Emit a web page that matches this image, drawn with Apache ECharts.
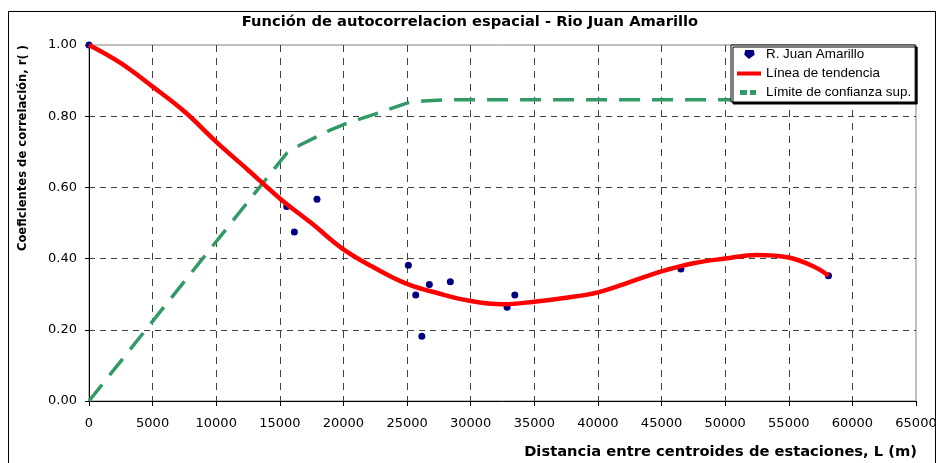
<!DOCTYPE html>
<html>
<head>
<meta charset="utf-8">
<script src="https://cdn.jsdelivr.net/npm/echarts@6/dist/echarts.min.js"></script>
<style>
html,body{margin:0;padding:0;background:#fff;}
#chart{width:940px;height:463px;}
</style>
</head>
<body>
<div id="chart"></div>
<script>
// ---- Data ----
const titleText = 'Función de autocorrelacion espacial - Rio Juan Amarillo';
const xAxisTitle = 'Distancia entre centroides de estaciones, L (m)';
const yAxisTitle = 'Coeficientes de correlación, r( )';
const seriesNames = ['R. Juan Amarillo', 'Línea de tendencia', 'Límite de confianza sup.'];

// observed correlation points
const obsX = [0, 15540, 16140, 17920, 25100, 25680, 26160, 26750, 28400, 32860, 33470, 46520, 58120];
const obsY = [1.00, 0.546, 0.475, 0.567, 0.381, 0.298, 0.182, 0.327, 0.335, 0.263, 0.298, 0.371, 0.352];

// trend line
const trendX = [0, 2500, 5000, 7500, 10000, 12500, 15000, 17500, 20000, 22500, 25000, 27500, 30000, 32500, 35000, 37500, 40000, 42500, 45000, 47500, 50000, 52500, 55000, 57000, 58120];
const trendY = [1.00, 0.949, 0.883, 0.813, 0.728, 0.649, 0.569, 0.499, 0.426, 0.373, 0.329, 0.302, 0.281, 0.272, 0.279, 0.290, 0.305, 0.334, 0.364, 0.387, 0.400, 0.410, 0.403, 0.377, 0.352];

// upper confidence limit (green dashed)
const limX = [0, 15540, 16590, 18950, 20260, 22820, 25100, 26280, 27930, 58120];
const limY = [0, 0.696, 0.719, 0.761, 0.780, 0.810, 0.838, 0.843, 0.846, 0.846];

const xMin = 0, xMax = 65000, xStep = 5000;
const yMin = 0, yMax = 1, yStep = 0.2;

const zip = (a, b) => a.map((v, i) => [v, b[i]]);

// legend icons (24 x 9 boxes, tiny corner triangles fix the bounding box)
const box = 'M0,0 L0.01,0 L0,0.01 Z M24,9 L23.99,9 L24,8.99 Z ';
const iconPoint = 'path://' + box + 'M8,0 L17,0 L18,5 L12,9.5 L7,5 Z';
const iconTrend = 'path://' + box + 'M0,2.5 L24,2.5 L24,6.5 L0,6.5 Z';
const iconLimit = 'path://' + box + 'M3,2 L10,2 L10,7 L3,7 Z M13,2 L19,2 L19,7 L13,7 Z';

const chart = echarts.init(document.getElementById('chart'), null, {renderer: 'canvas'});
const labelFont = 'DejaVu Sans';
chart.setOption({
  backgroundColor: '#ffffff',
  animation: false,
  title: {
    text: titleText,
    left: 'center',
    top: 15,
    padding: 0,
    textStyle: {fontFamily: 'DejaVu Sans', fontWeight: 'bold', fontSize: 14.7, color: '#000'}
  },
  grid: {
    left: 89, right: 24, top: 45, bottom: 62,
    show: true, borderColor: '#808080', borderWidth: 1, backgroundColor: 'transparent'
  },
  legend: {
    orient: 'vertical',
    left: 731, top: 45,
    padding: [3, 4, 3, 6],
    itemWidth: 24, itemHeight: 9, itemGap: 6,
    backgroundColor: '#fff',
    borderColor: '#000', borderWidth: 1,
    shadowColor: '#000', shadowOffsetX: 2, shadowOffsetY: 2, shadowBlur: 0,
    textStyle: {fontFamily: 'Liberation Sans', fontSize: 13.4, color: '#000'},
    data: [
      {name: seriesNames[0], icon: iconPoint, itemStyle: {color: '#000080'}},
      {name: seriesNames[1], icon: iconTrend, itemStyle: {color: '#ff0000'}},
      {name: seriesNames[2], icon: iconLimit, itemStyle: {color: '#339966'}}
    ]
  },
  xAxis: {
    type: 'value', min: xMin, max: xMax, interval: xStep,
    axisLine: {show: true, onZero: false, lineStyle: {color: '#000', width: 1}},
    axisTick: {show: true, inside: false, length: 5, lineStyle: {color: '#000'}},
    axisLabel: {margin: 16, color: '#000', fontFamily: labelFont, fontSize: 13, formatter: v => String(v)},
    splitLine: {show: true, showMinLine: false, showMaxLine: false, lineStyle: {color: '#404040', type: [7, 6], width: 1}}
  },
  yAxis: {
    type: 'value', min: yMin, max: yMax, interval: yStep,
    axisLine: {show: true, onZero: false, lineStyle: {color: '#000', width: 1}},
    axisTick: {show: true, inside: false, length: 4, lineStyle: {color: '#000'}},
    axisLabel: {margin: 12, color: '#000', fontFamily: labelFont, fontSize: 13, formatter: v => v.toFixed(2)},
    splitLine: {show: true, showMinLine: false, showMaxLine: false, lineStyle: {color: '#404040', type: [6, 5], width: 1}}
  },
  graphic: [
    {type: 'rect', silent: true, z: -10, shape: {x: 8.5, y: 11.5, width: 927, height: 470}, style: {fill: 'none', stroke: '#000', lineWidth: 1}},
    {type: 'text', x: 23, y: 148, rotation: Math.PI / 2, silent: true,
     style: {text: yAxisTitle, x: 0, y: 0, align: 'center', verticalAlign: 'middle', fill: '#000', font: 'bold 11.6px "DejaVu Sans"'}},
    {type: 'text', x: 917, y: 452, silent: true,
     style: {text: xAxisTitle, x: 0, y: 0, align: 'right', verticalAlign: 'middle', fill: '#000', font: 'bold 14.7px "DejaVu Sans"'}}
  ],
  series: [
    {
      name: seriesNames[0], type: 'scatter', z: 2,
      symbol: 'circle', symbolSize: 7,
      itemStyle: {color: '#000080', opacity: 1},
      data: zip(obsX, obsY)
    },
    {
      name: seriesNames[1], type: 'line', z: 4, smooth: 0.4, symbol: 'none', clip: false,
      lineStyle: {color: '#ff0000', width: 4.5},
      itemStyle: {color: '#ff0000'},
      data: zip(trendX, trendY)
    },
    {
      name: seriesNames[2], type: 'line', z: 3, symbol: 'none', clip: false,
      lineStyle: {color: '#339966', width: 3.5, type: [21, 12]},
      itemStyle: {color: '#339966'},
      data: zip(limX, limY)
    }
  ]
});
</script>
</body>
</html>
